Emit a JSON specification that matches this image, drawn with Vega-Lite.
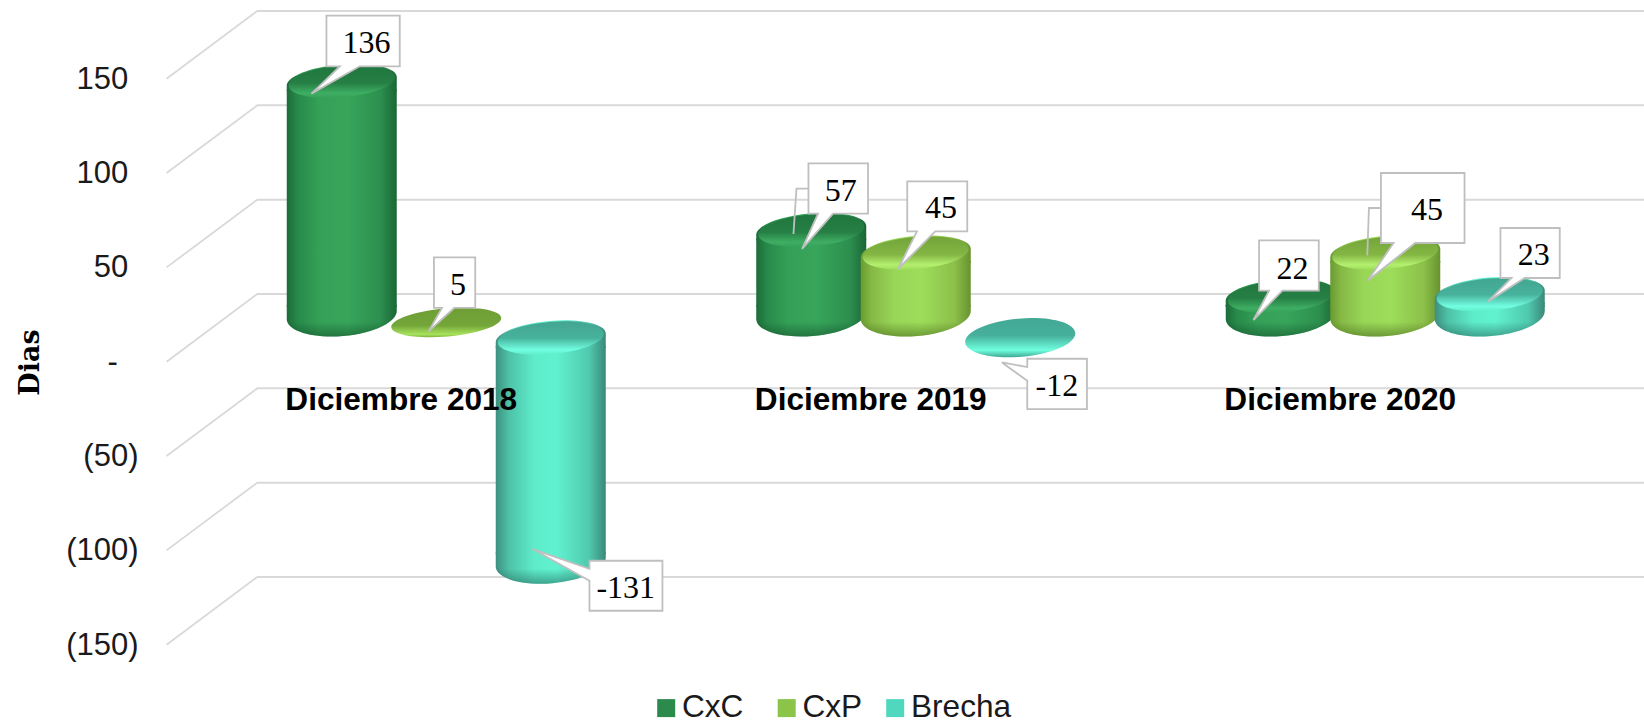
{"$schema":"https://vega.github.io/schema/vega-lite/v6.json","width":1387,"height":566,"autosize":"none","padding":{"left":257,"top":11,"right":0,"bottom":144},"background":"white","config":{"view":{"stroke":null}},
"datasets":{"filas":[{"periodo":"Diciembre 2018","serie":"CxC","value":136},{"periodo":"Diciembre 2018","serie":"CxP","value":5},{"periodo":"Diciembre 2018","serie":"Brecha","value":-131},{"periodo":"Diciembre 2019","serie":"CxC","value":57},{"periodo":"Diciembre 2019","serie":"CxP","value":45},{"periodo":"Diciembre 2019","serie":"Brecha","value":-12},{"periodo":"Diciembre 2020","serie":"CxC","value":22},{"periodo":"Diciembre 2020","serie":"CxP","value":45},{"periodo":"Diciembre 2020","serie":"Brecha","value":23}],"marcas":[{"value":150},{"value":100},{"value":50},{"value":0},{"value":-50},{"value":-100},{"value":-150}]},
"encoding":{"y":{"field":"value","type":"quantitative","scale":{"domain":[-150,150],"nice":false,"zero":false},"axis":{"values":[150,100,50,0,-50,-100,-150],"labelExpr":"datum.value==0?'-\u2004\u2004\u200b':(datum.value<0?'('+abs(datum.value)+')':datum.value+'\u2004\u200b')","labelOffset":68,"labelPadding":119,"labelFont":"Liberation Sans","labelFontSize":31,"labelColor":"#1a1a1a","ticks":false,"domain":false,"grid":false,"title":"Dias","titleFont":"DejaVu Serif","titleFontWeight":"bold","titleFontSize":27,"titleColor":"black","titleAngle":270,"titleAlign":"center","titleBaseline":"alphabetic","titleX":-219,"titleY":351,"zindex":0}}},
"layer":[
{"data":{"name":"marcas"},"mark":{"type":"rule","color":"#d9d9d9","strokeWidth":2},"encoding":{}},
{"data":{"name":"marcas"},"mark":{"type":"point","shape":"M-189,0 L-279.7,67.7","size":4,"filled":false,"fill":"transparent","stroke":"#d9d9d9","strokeWidth":1.8,"opacity":1},"encoding":{"x":{"datum":"Diciembre 2018","type":"nominal","scale":{"domain":["Diciembre 2018","Diciembre 2019","Diciembre 2020"],"range":[-45.5,1363],"paddingInner":0,"paddingOuter":0},"axis":{"title":null,"orient":"bottom","ticks":false,"domain":false,"grid":false,"labelAngle":0,"labelFont":"Liberation Sans","labelFontWeight":"bold","labelFontSize":31.6,"labelColor":"black","labelPadding":-168,"labelBaseline":"alphabetic","labelOffset":-45,"labelLimit":500,"zindex":1}}}},
{"data":{"name":"filas"},
"encoding":{"x":{"field":"periodo","type":"nominal","scale":{"domain":["Diciembre 2018","Diciembre 2019","Diciembre 2020"],"range":[-45.5,1363],"paddingInner":0,"paddingOuter":0},"axis":{"title":null,"orient":"bottom","ticks":false,"domain":false,"grid":false,"labelAngle":0,"labelFont":"Liberation Sans","labelFontWeight":"bold","labelFontSize":31.6,"labelColor":"black","labelPadding":-168,"labelBaseline":"alphabetic","labelOffset":-45,"labelLimit":500,"zindex":1}},"xOffset":{"field":"serie","type":"nominal","scale":{"domain":["CxC","CxP","Brecha"],"range":[78,391.5],"paddingInner":0,"paddingOuter":0}}},
"layer":[
{"transform":[{"filter":"datum.value>=15"}],"mark":{"type":"bar","width":100,"yOffset":60,"y2Offset":13},"encoding":{"y2":{"datum":0},"color":{"field":"serie","type":"nominal","scale":{"domain":["CxC","CxP","Brecha"],"range":["#2c8a4c","#8cc44a","#4fd8bd"]},"legend":{"title":null,"orient":"none","direction":"horizontal","columns":3,"legendX":393.4,"legendY":681,"labelFont":"Liberation Sans","labelFontSize":31.6,"labelColor":"#1a1a1a","labelExpr":"datum.label=='CxC'?'CxC\u2004\u200b':datum.label","symbolSize":324,"symbolType":"square","symbolStrokeWidth":0,"columnPadding":16.5,"labelOffset":0,"padding":0}}}},

{"transform":[{"filter":"datum.serie=='CxC'&&datum.value>=15"}],"layer":[
{"mark":{"type":"point","size":4,"filled":true,"opacity":1,"yOffset":21,"shape":"M-55,-10 L55,-10 L55,-4.8 A55,21 -5 0 1 -55,4.8 Z","fill":{"gradient":"linear","x1":0,"y1":0,"x2":1,"y2":0,"stops":[{"offset":0,"color":"#1d6b39"},{"offset":0.1,"color":"#278a4a"},{"offset":0.3,"color":"#35a158"},{"offset":0.55,"color":"#37a55a"},{"offset":0.85,"color":"#2c8f4e"},{"offset":1,"color":"#1b6636"}]}},"encoding":{"y":{"datum":0}}},
{"mark":{"type":"bar","width":110,"yOffset":52,"y2Offset":13,"fill":{"gradient":"linear","x1":0,"y1":0,"x2":1,"y2":0,"stops":[{"offset":0,"color":"#1d6b39"},{"offset":0.1,"color":"#278a4a"},{"offset":0.3,"color":"#35a158"},{"offset":0.55,"color":"#37a55a"},{"offset":0.85,"color":"#2c8f4e"},{"offset":1,"color":"#1b6636"}]}},"encoding":{"y2":{"datum":0}}},
{"mark":{"type":"point","size":4,"filled":true,"opacity":1,"yOffset":21,"shape":"M-55,-8 L55,-8 L55,-4.8 A55,21 -5 0 1 -55,4.8 Z","fill":{"gradient":"linear","x1":0,"y1":0,"x2":0,"y2":1,"stops":[{"offset":0.5,"color":"rgba(10,60,30,0)"},{"offset":1,"color":"rgba(10,60,30,0.45)"}]}},"encoding":{"y":{"datum":0}}},
{"mark":{"type":"point","size":4,"filled":true,"opacity":1,"yOffset":44,"shape":"M-55,4.8 A55,17 -5 0 1 55,-4.8 L55,10 L-55,10 Z","fill":{"gradient":"linear","x1":0,"y1":0,"x2":1,"y2":0,"stops":[{"offset":0,"color":"#1d6b39"},{"offset":0.1,"color":"#278a4a"},{"offset":0.3,"color":"#35a158"},{"offset":0.55,"color":"#37a55a"},{"offset":0.85,"color":"#2c8f4e"},{"offset":1,"color":"#1b6636"}]}}},
{"mark":{"type":"point","size":4,"filled":true,"opacity":1,"yOffset":44,"shape":"M-53,4.6 A53,16 -5 1 1 53,-4.6 A53,16 -5 1 1 -53,4.6 Z","fill":{"gradient":"linear","x1":0,"y1":0,"x2":0,"y2":1,"stops":[{"offset":0,"color":"#1f763e"},{"offset":0.55,"color":"#267f45"},{"offset":0.85,"color":"#3eae63"},{"offset":1,"color":"#35a158"}]}}}
]},

{"transform":[{"filter":"datum.serie=='CxP'&&datum.value>=15"}],"layer":[
{"mark":{"type":"point","size":4,"filled":true,"opacity":1,"yOffset":21,"shape":"M-55,-10 L55,-10 L55,-4.8 A55,21 -5 0 1 -55,4.8 Z","fill":{"gradient":"linear","x1":0,"y1":0,"x2":1,"y2":0,"stops":[{"offset":0,"color":"#6a9a32"},{"offset":0.1,"color":"#86b945"},{"offset":0.3,"color":"#98d657"},{"offset":0.55,"color":"#9ddd5a"},{"offset":0.85,"color":"#8cc04a"},{"offset":1,"color":"#67932f"}]}},"encoding":{"y":{"datum":0}}},
{"mark":{"type":"bar","width":110,"yOffset":52,"y2Offset":13,"fill":{"gradient":"linear","x1":0,"y1":0,"x2":1,"y2":0,"stops":[{"offset":0,"color":"#6a9a32"},{"offset":0.1,"color":"#86b945"},{"offset":0.3,"color":"#98d657"},{"offset":0.55,"color":"#9ddd5a"},{"offset":0.85,"color":"#8cc04a"},{"offset":1,"color":"#67932f"}]}},"encoding":{"y2":{"datum":0}}},
{"mark":{"type":"point","size":4,"filled":true,"opacity":1,"yOffset":21,"shape":"M-55,-8 L55,-8 L55,-4.8 A55,21 -5 0 1 -55,4.8 Z","fill":{"gradient":"linear","x1":0,"y1":0,"x2":0,"y2":1,"stops":[{"offset":0.5,"color":"rgba(60,90,20,0)"},{"offset":1,"color":"rgba(60,90,20,0.5)"}]}},"encoding":{"y":{"datum":0}}},
{"mark":{"type":"point","size":4,"filled":true,"opacity":1,"yOffset":44,"shape":"M-55,4.8 A55,17 -5 0 1 55,-4.8 L55,10 L-55,10 Z","fill":{"gradient":"linear","x1":0,"y1":0,"x2":1,"y2":0,"stops":[{"offset":0,"color":"#6a9a32"},{"offset":0.1,"color":"#86b945"},{"offset":0.3,"color":"#98d657"},{"offset":0.55,"color":"#9ddd5a"},{"offset":0.85,"color":"#8cc04a"},{"offset":1,"color":"#67932f"}]}}},
{"mark":{"type":"point","size":4,"filled":true,"opacity":1,"yOffset":44,"shape":"M-53,4.6 A53,16 -5 1 1 53,-4.6 A53,16 -5 1 1 -53,4.6 Z","fill":{"gradient":"linear","x1":0,"y1":0,"x2":0,"y2":1,"stops":[{"offset":0,"color":"#73a33a"},{"offset":0.55,"color":"#84b644"},{"offset":0.85,"color":"#b4f06e"},{"offset":1,"color":"#9ddd5a"}]}}}
]},
{"transform":[{"filter":"datum.serie=='CxP'&&datum.value==5"}],"mark":{"type":"point","size":4,"filled":true,"opacity":1,"yOffset":38,"shape":"M-55,4.8 A55,14 -5 1 1 55,-4.8 A55,14 -5 1 1 -55,4.8 Z","fill":{"gradient":"linear","x1":0,"y1":0,"x2":0,"y2":1,"stops":[{"offset":0,"color":"#6e9e35"},{"offset":0.6,"color":"#74a63a"},{"offset":0.9,"color":"#a8e35c"},{"offset":1,"color":"#7fae3c"}]}}},

{"transform":[{"filter":"datum.serie=='Brecha'&&datum.value>=15"}],"layer":[
{"mark":{"type":"point","size":4,"filled":true,"opacity":1,"yOffset":21,"shape":"M-55,-10 L55,-10 L55,-4.8 A55,21 -5 0 1 -55,4.8 Z","fill":{"gradient":"linear","x1":0,"y1":0,"x2":1,"y2":0,"stops":[{"offset":0,"color":"#3d8f7f"},{"offset":0.12,"color":"#4ec2a7"},{"offset":0.35,"color":"#5eeccb"},{"offset":0.55,"color":"#60f2d0"},{"offset":0.85,"color":"#50c9ae"},{"offset":1,"color":"#3a8878"}]}},"encoding":{"y":{"datum":0}}},
{"mark":{"type":"bar","width":110,"yOffset":52,"y2Offset":13,"fill":{"gradient":"linear","x1":0,"y1":0,"x2":1,"y2":0,"stops":[{"offset":0,"color":"#3d8f7f"},{"offset":0.12,"color":"#4ec2a7"},{"offset":0.35,"color":"#5eeccb"},{"offset":0.55,"color":"#60f2d0"},{"offset":0.85,"color":"#50c9ae"},{"offset":1,"color":"#3a8878"}]}},"encoding":{"y2":{"datum":0}}},
{"mark":{"type":"point","size":4,"filled":true,"opacity":1,"yOffset":21,"shape":"M-55,-8 L55,-8 L55,-4.8 A55,21 -5 0 1 -55,4.8 Z","fill":{"gradient":"linear","x1":0,"y1":0,"x2":0,"y2":1,"stops":[{"offset":0.5,"color":"rgba(30,90,80,0)"},{"offset":1,"color":"rgba(30,90,80,0.5)"}]}},"encoding":{"y":{"datum":0}}},
{"mark":{"type":"point","size":4,"filled":true,"opacity":1,"yOffset":44,"shape":"M-55,4.8 A55,17 -5 0 1 55,-4.8 L55,10 L-55,10 Z","fill":{"gradient":"linear","x1":0,"y1":0,"x2":1,"y2":0,"stops":[{"offset":0,"color":"#3d8f7f"},{"offset":0.12,"color":"#4ec2a7"},{"offset":0.35,"color":"#5eeccb"},{"offset":0.55,"color":"#60f2d0"},{"offset":0.85,"color":"#50c9ae"},{"offset":1,"color":"#3a8878"}]}}},
{"mark":{"type":"point","size":4,"filled":true,"opacity":1,"yOffset":44,"shape":"M-53,4.6 A53,16 -5 1 1 53,-4.6 A53,16 -5 1 1 -53,4.6 Z","fill":{"gradient":"linear","x1":0,"y1":0,"x2":0,"y2":1,"stops":[{"offset":0,"color":"#42a592"},{"offset":0.5,"color":"#47b29c"},{"offset":0.85,"color":"#72fde0"},{"offset":1,"color":"#5fefcc"}]}}}
]},
{"transform":[{"filter":"datum.serie=='Brecha'&&datum.value==-12"}],"mark":{"type":"point","size":4,"filled":true,"opacity":1,"yOffset":21,"shape":"M-55,4.8 A55,19 -5 1 1 55,-4.8 A55,19 -5 1 1 -55,4.8 Z","fill":{"gradient":"linear","x1":0,"y1":0,"x2":0,"y2":1,"stops":[{"offset":0,"color":"#43a896"},{"offset":0.45,"color":"#46b09b"},{"offset":0.82,"color":"#70ffe0"},{"offset":1,"color":"#3fa893"}]}}},
{"transform":[{"filter":"datum.serie=='Brecha'&&datum.value<=-15"}],"layer":[
{"mark":{"type":"point","size":4,"filled":true,"opacity":1,"yOffset":21,"shape":"M-55,-10 L55,-10 L55,-4.8 A55,21 -5 0 1 -55,4.8 Z","fill":{"gradient":"linear","x1":0,"y1":0,"x2":1,"y2":0,"stops":[{"offset":0,"color":"#3d8f7f"},{"offset":0.12,"color":"#4ec2a7"},{"offset":0.35,"color":"#5eeccb"},{"offset":0.55,"color":"#60f2d0"},{"offset":0.85,"color":"#50c9ae"},{"offset":1,"color":"#3a8878"}]}}},
{"mark":{"type":"bar","width":110,"yOffset":13,"y2Offset":52,"fill":{"gradient":"linear","x1":0,"y1":0,"x2":1,"y2":0,"stops":[{"offset":0,"color":"#3d8f7f"},{"offset":0.12,"color":"#4ec2a7"},{"offset":0.35,"color":"#5eeccb"},{"offset":0.55,"color":"#60f2d0"},{"offset":0.85,"color":"#50c9ae"},{"offset":1,"color":"#3a8878"}]}},"encoding":{"y2":{"datum":0}}},
{"mark":{"type":"point","size":4,"filled":true,"opacity":1,"yOffset":21,"shape":"M-55,-8 L55,-8 L55,-4.8 A55,21 -5 0 1 -55,4.8 Z","fill":{"gradient":"linear","x1":0,"y1":0,"x2":0,"y2":1,"stops":[{"offset":0.5,"color":"rgba(30,90,80,0)"},{"offset":1,"color":"rgba(30,90,80,0.5)"}]}}},
{"mark":{"type":"point","size":4,"filled":true,"opacity":1,"yOffset":44,"shape":"M-55,4.8 A55,17 -5 0 1 55,-4.8 L55,10 L-55,10 Z","fill":{"gradient":"linear","x1":0,"y1":0,"x2":1,"y2":0,"stops":[{"offset":0,"color":"#3d8f7f"},{"offset":0.12,"color":"#4ec2a7"},{"offset":0.35,"color":"#5eeccb"},{"offset":0.55,"color":"#60f2d0"},{"offset":0.85,"color":"#50c9ae"},{"offset":1,"color":"#3a8878"}]}},"encoding":{"y":{"datum":0}}},
{"mark":{"type":"point","size":4,"filled":true,"opacity":1,"yOffset":44,"shape":"M-53,4.6 A53,16 -5 1 1 53,-4.6 A53,16 -5 1 1 -53,4.6 Z","fill":{"gradient":"linear","x1":0,"y1":0,"x2":0,"y2":1,"stops":[{"offset":0,"color":"#42a592"},{"offset":0.5,"color":"#47b29c"},{"offset":0.85,"color":"#72fde0"},{"offset":1,"color":"#5fefcc"}]}},"encoding":{"y":{"datum":0}}}
]},

{"transform":[{"filter":"datum.periodo=='Diciembre 2018'&&datum.serie=='CxC'"}],"layer":[
{"mark":{"type":"point","size":4,"filled":true,"opacity":1,"fill":"white","stroke":"#bfbfbf","strokeWidth":1.8,"shape":"M-15.3,-21.8 H58 V28.9 H18 L-30.3,56.2 L-2,28.9 H-15.3 Z"}},
{"mark":{"type":"text","font":"Liberation Serif","fontSize":32,"color":"black","align":"center","baseline":"alphabetic","dx":24.7,"dy":15.2},"encoding":{"text":{"field":"value","type":"nominal"}}}]},
{"transform":[{"filter":"datum.periodo=='Diciembre 2018'&&datum.serie=='CxP'"}],"layer":[
{"mark":{"type":"point","size":4,"filled":true,"opacity":1,"fill":"white","stroke":"#bfbfbf","strokeWidth":1.8,"shape":"M-12.3,-27.2 H29 V23.4 H8 L-17.7,46.8 L-4.3,23.4 H-12.3 Z"}},
{"mark":{"type":"text","font":"Liberation Serif","fontSize":32,"color":"black","align":"center","baseline":"alphabetic","dx":11.7,"dy":10.1},"encoding":{"text":{"field":"value","type":"nominal"}}}]},
{"transform":[{"filter":"datum.periodo=='Diciembre 2018'&&datum.serie=='Brecha'"}],"layer":[
{"mark":{"type":"point","size":4,"filled":true,"opacity":1,"fill":"white","stroke":"#bfbfbf","strokeWidth":1.8,"shape":"M38.7,19.6 H111.7 V69.6 H38.7 V39.6 L-18.3,7.9 L38.7,27.6 Z"}},
{"mark":{"type":"text","font":"Liberation Serif","fontSize":32,"color":"black","align":"center","baseline":"alphabetic","dx":75,"dy":56.9},"encoding":{"text":{"field":"value","type":"nominal"}}}]},
{"transform":[{"filter":"datum.periodo=='Diciembre 2019'&&datum.serie=='CxC'"}],"layer":[
{"mark":{"type":"point","size":4,"filled":false,"fill":"transparent","opacity":1,"stroke":"#bfbfbf","strokeWidth":1.8,"shape":"M-2.8,2.2 L-14.8,2.2 L-17.8,47.5"}},
{"mark":{"type":"point","size":4,"filled":true,"opacity":1,"fill":"white","stroke":"#bfbfbf","strokeWidth":1.8,"shape":"M-2.8,-23.1 H56.8 V27.2 H21.8 L-9.2,62.5 L6.8,27.2 H-2.8 Z"}},
{"mark":{"type":"text","font":"Liberation Serif","fontSize":32,"color":"black","align":"center","baseline":"alphabetic","dx":29.5,"dy":14.2},"encoding":{"text":{"field":"value","type":"nominal"}}}]},
{"transform":[{"filter":"datum.periodo=='Diciembre 2019'&&datum.serie=='CxP'"}],"layer":[
{"mark":{"type":"point","size":4,"filled":true,"opacity":1,"fill":"white","stroke":"#bfbfbf","strokeWidth":1.8,"shape":"M-8.5,-27.7 H51.5 V22.3 H19.5 L-17.8,59.9 L1.2,22.3 H-8.5 Z"}},
{"mark":{"type":"text","font":"Liberation Serif","fontSize":32,"color":"black","align":"center","baseline":"alphabetic","dx":25.2,"dy":8.9},"encoding":{"text":{"field":"value","type":"nominal"}}}]},
{"transform":[{"filter":"datum.periodo=='Diciembre 2019'&&datum.serie=='Brecha'"}],"layer":[
{"mark":{"type":"point","size":4,"filled":true,"opacity":1,"fill":"white","stroke":"#bfbfbf","strokeWidth":1.8,"shape":"M7,42.1 H66.7 V92.4 H7 V64.1 L-18.3,45.8 L7,50.4 Z"}},
{"mark":{"type":"text","font":"Liberation Serif","fontSize":32,"color":"black","align":"center","baseline":"alphabetic","dx":36.7,"dy":79.8},"encoding":{"text":{"field":"value","type":"nominal"}}}]},
{"transform":[{"filter":"datum.periodo=='Diciembre 2020'&&datum.serie=='CxC'"}],"layer":[
{"mark":{"type":"point","size":4,"filled":true,"opacity":1,"fill":"white","stroke":"#bfbfbf","strokeWidth":1.8,"shape":"M-21.7,-12.1 H38 V38.2 H1.7 L-27.3,67.5 L-11.7,38.2 H-21.7 Z"}},
{"mark":{"type":"text","font":"Liberation Serif","fontSize":32,"color":"black","align":"center","baseline":"alphabetic","dx":11.7,"dy":26.2},"encoding":{"text":{"field":"value","type":"nominal"}}}]},
{"transform":[{"filter":"datum.periodo=='Diciembre 2020'&&datum.serie=='CxP'"}],"layer":[
{"mark":{"type":"point","size":4,"filled":false,"fill":"transparent","opacity":1,"stroke":"#bfbfbf","strokeWidth":1.8,"shape":"M-4.3,-1.1 L-16.3,-1.1 L-18,46.3"}},
{"mark":{"type":"point","size":4,"filled":true,"opacity":1,"fill":"white","stroke":"#bfbfbf","strokeWidth":1.8,"shape":"M-4.3,-36.1 H79.3 V33.9 H30 L-17.7,71.6 L8.3,33.9 H-4.3 Z"}},
{"mark":{"type":"text","font":"Liberation Serif","fontSize":32,"color":"black","align":"center","baseline":"alphabetic","dx":41.7,"dy":11.3},"encoding":{"text":{"field":"value","type":"nominal"}}}]},
{"transform":[{"filter":"datum.periodo=='Diciembre 2020'&&datum.serie=='Brecha'"}],"layer":[
{"mark":{"type":"point","size":4,"filled":true,"opacity":1,"fill":"white","stroke":"#bfbfbf","strokeWidth":1.8,"shape":"M10.7,-22.6 H70 V27.4 H35 L-1.7,50.8 L21.7,27.4 H10.7 Z"}},
{"mark":{"type":"text","font":"Liberation Serif","fontSize":32,"color":"black","align":"center","baseline":"alphabetic","dx":44,"dy":14.8},"encoding":{"text":{"field":"value","type":"nominal"}}}]}
]}
]}
